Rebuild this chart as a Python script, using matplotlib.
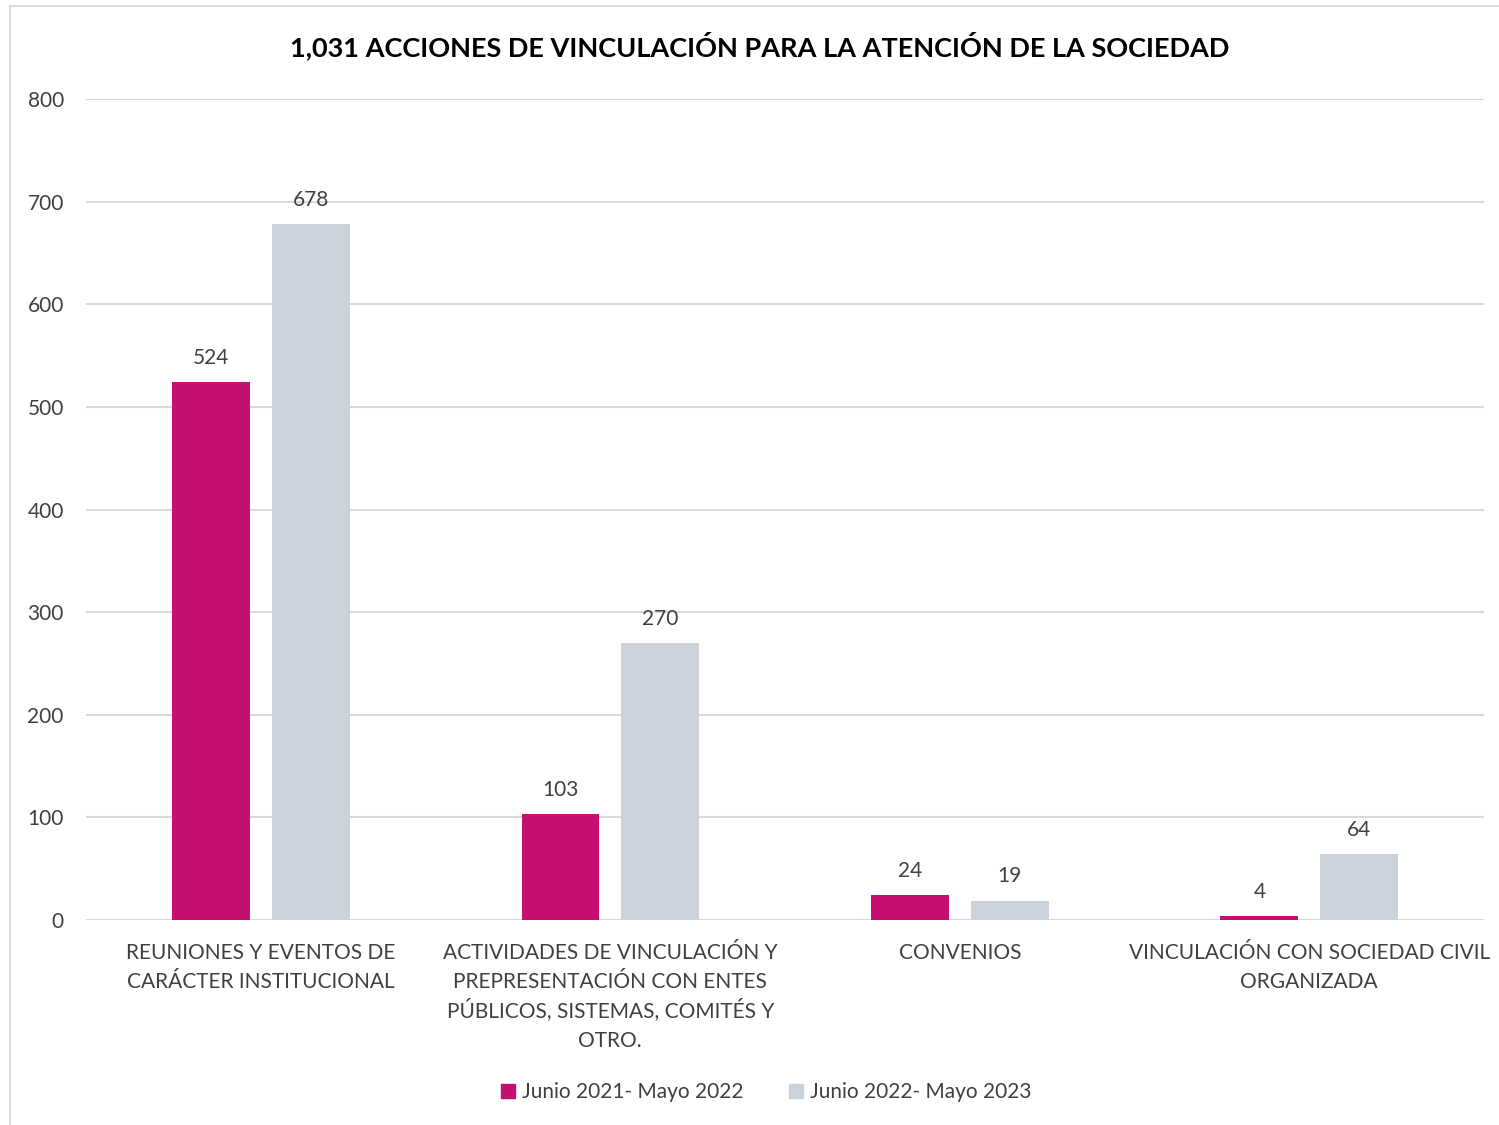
import numpy as np
import matplotlib.pyplot as plt
import matplotlib.transforms as mtransforms
from matplotlib.patches import Patch, Rectangle

categories = [
    "REUNIONES Y EVENTOS DE\nCARÁCTER INSTITUCIONAL",
    "ACTIVIDADES DE VINCULACIÓN Y\nPREPRESENTACIÓN CON ENTES\nPÚBLICOS, SISTEMAS, COMITÉS Y\nOTRO.",
    "CONVENIOS",
    "VINCULACIÓN CON SOCIEDAD CIVIL\nORGANIZADA",
]
series_names = ["Junio 2021- Mayo 2022", "Junio 2022- Mayo 2023"]
values_2122 = [524, 103, 24, 4]
values_2223 = [678, 270, 19, 64]
yticks = [0, 100, 200, 300, 400, 500, 600, 700, 800]

colors = ['#C50F71', '#CBD2DC']
text_color = '#404040'
plt.rcParams['font.family'] = ['Lato', 'DejaVu Sans']

fig = plt.figure(figsize=(14.99, 11.25), dpi=100)
ax = fig.add_axes([0.0574, 0.1822, 0.9326, 0.7298])

# chart frame
fig.patches.append(Rectangle((0.007, -0.01), 1.0, 1.005, transform=fig.transFigure,
                             fill=False, edgecolor='#D9D9D9', linewidth=1.5))

x = np.arange(len(categories))
w = 0.223
off = 0.1425
for vals, dx, c in [(values_2122, -off, colors[0]), (values_2223, off, colors[1])]:
    bars = ax.bar(x + dx, vals, width=w, color=c, zorder=3)
    for b, v in zip(bars, vals):
        ax.text(b.get_x() + b.get_width() / 2, v + 14, str(v), ha='center', va='bottom',
                fontsize=15, color=text_color)

ax.set_xlim(-0.5, len(categories) - 0.5)
ax.set_ylim(0, 800)
ax.set_yticks(yticks)
ax.set_yticklabels([str(t) for t in yticks], fontsize=15, color=text_color)
ax.set_xticks(x)
ax.set_xticklabels([])
ax.tick_params(axis='both', length=0)
ax.tick_params(axis='y', pad=16)
ax.grid(axis='y', color='#D9D9D9', linewidth=1.5, zorder=0)
for s in ax.spines.values():
    s.set_visible(False)

# category labels, one text per line so the spacing stays even
base = ax.get_xaxis_transform()
for xi, label in zip(x, categories):
    for j, line in enumerate(label.split('\n')):
        tr = mtransforms.offset_copy(base, fig=fig, x=0, y=-(38.5 + 29.5 * j) * 0.72, units='points')
        ax.text(xi, 0, line, transform=tr, ha='center', va='baseline', fontsize=15,
                color=text_color)

fig.text(0.507, 0.9595, "1,031 ACCIONES DE VINCULACIÓN PARA LA ATENCIÓN DE LA SOCIEDAD",
         ha='center', va='center', fontsize=19.5, fontweight='bold', color='black')

handles = [Patch(color=c, label=n) for c, n in zip(colors, series_names)]
fig.legend(handles=handles, loc='center', bbox_to_anchor=(0.511, 0.029), ncol=2,
           frameon=False, fontsize=15, handlelength=0.7, handleheight=0.7,
           handletextpad=0.3, columnspacing=2.2, labelcolor=text_color)

fig.savefig('out.png', dpi=100, facecolor='white')
